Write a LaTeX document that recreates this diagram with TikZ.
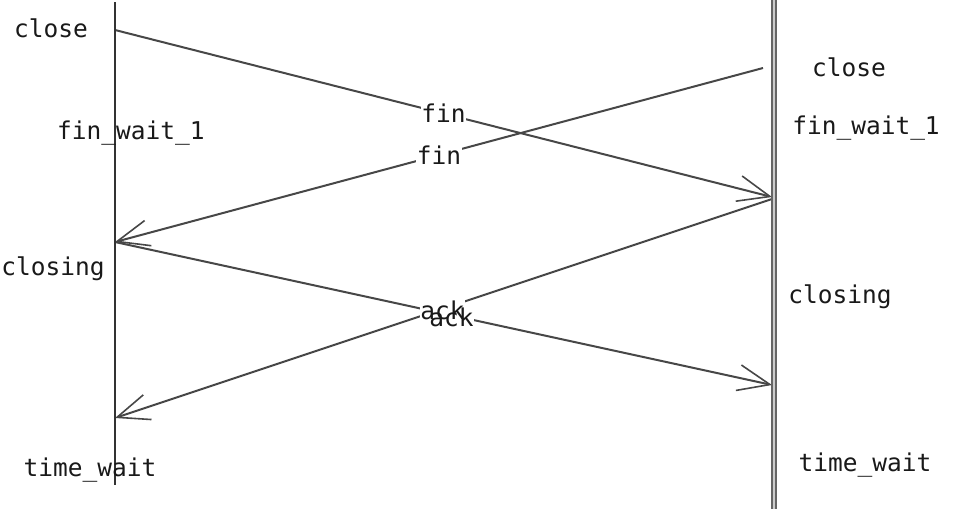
\documentclass[tikz,border=0pt]{standalone}
\usepackage{fontspec}
\newfontfamily\statefont{DejaVu Sans Mono}
\usetikzlibrary{arrows.meta,calc}

\newcommand{\us}{\char"5F\relax}

\pgfdeclarelayer{wire}
\pgfdeclarelayer{gap}
\pgfsetlayers{wire,gap,main}

\tikzset{
  state/.style={font=\statefont\fontsize{24.5}{28}\selectfont, text=black!90, inner sep=0pt},
  msg/.style={font=\statefont\fontsize{24.5}{28}\selectfont, text=black!90, inner sep=0.5pt},
  packet/.style={line width=2pt, draw=black!72, -{Straight Barb[length=32pt,width=26pt,line width=1.6pt]}}
}

\begin{document}
\begin{tikzpicture}[x=1pt,y=-1pt]
        \useasboundingbox (0,0) rectangle (953,509);

        %Lines
        \coordinate (a0) at (115,2);
        \coordinate (a1) at (115,485);
        \coordinate (b0) at (774,0);
        \coordinate (b1) at (774,509);
        \draw [line width=2pt, black!80] (a0) -- (a1);
        \draw [line width=1.5pt, draw=black!60, double=black!20, double distance=2.5pt] (b0) -- (b1);

        %Events
        \coordinate (aclose) at (115,30);
        \coordinate (afin) at (115,242);
        \coordinate (aack) at (115,418);
        \coordinate (bclose) at (763,68);
        \coordinate (bfin) at (772,197);
        \coordinate (bsend) at (772,199);
        \coordinate (back) at (772,385);

        %Left states
        \node [state] (lclose) at (51,28) {close};
        \node [state] (lwait) at (131,133) {fin\us wait\us 1};
        \node [state] (lclosing) at (53,269) {closing};
        \node [state] (ltime) at (90,470) {time\us wait};

        %Right states
        \node [state] (rclose) at (849,67) {close};
        \node [state] (rwait) at (866,128) {fin\us wait\us 1};
        \node [state] (rclosing) at (840,297) {closing};
        \node [state] (rtime) at (865,465) {time\us wait};

        %Messages
        \begin{pgfonlayer}{wire}
        \draw [packet] (aclose) -- (bfin);
        \draw [packet] (bclose) -- (afin);
        \draw [packet] (afin) -- (back);
        \draw [packet] (bsend) -- (aack);
        \end{pgfonlayer}
        \node [msg] (fin1) at ($(aclose)!0.5!(bfin)$) {fin};
        \node [msg] (fin2) at ($(bclose)!0.5!(afin)$) {fin};
        \node [msg] (ack1) at ($(afin)!0.5!(back)+(-1,-3)$) {ack};
        \node [msg] (ack2) at ($(bsend)!0.5!(aack)+(8,9)$) {ack};

        %Gaps
        \begin{pgfonlayer}{gap}
        \foreach \m in {fin1,fin2,ack1,ack2}
          \fill [white] (\m.south west) rectangle (\m.north east);
        \end{pgfonlayer}

\end{tikzpicture}
\end{document}
